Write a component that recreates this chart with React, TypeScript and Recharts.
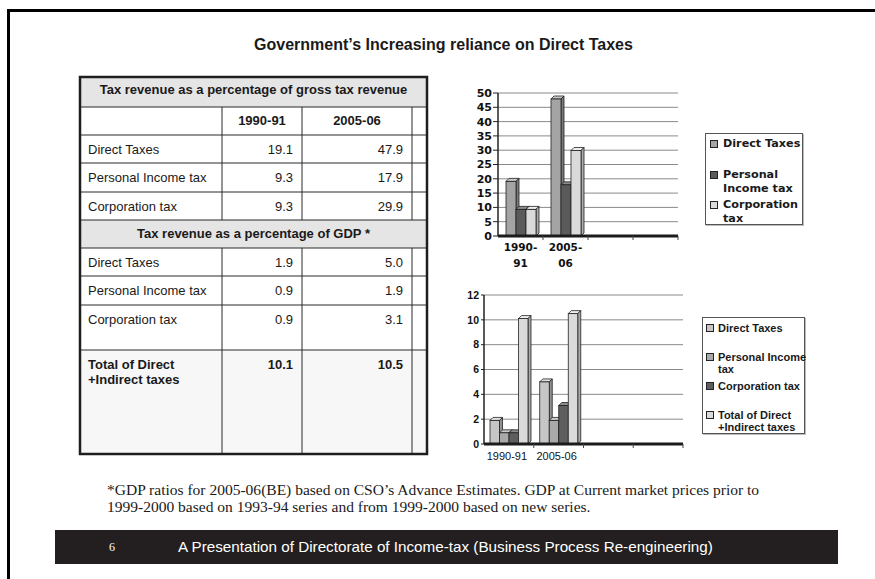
import React from "react";
import { BarChart, Bar, XAxis, YAxis, CartesianGrid, ReferenceLine, Legend } from "recharts";

// ---------- data ----------
const periods = ["1990-91", "2005-06"];
const emptySlots = ["", " "];
const shareDirect = [19.1, 47.9];
const sharePersonal = [9.3, 17.9];
const shareCorporation = [9.3, 29.9];
const gdpDirect = [1.9, 5.0];
const gdpPersonal = [0.9, 1.9];
const gdpCorporation = [0.9, 3.1];
const gdpTotal = [10.1, 10.5];
const shareTicks = [0, 5, 10, 15, 20, 25, 30, 35, 40, 45, 50];
const gdpTicks = [0, 2, 4, 6, 8, 10, 12];
const seriesNames = ["Direct Taxes", "Personal Income tax", "Corporation tax", "Total of Direct +Indirect taxes"];
const upperLegendLines = [["Direct Taxes"], ["Personal", "Income tax"], ["Corporation", "tax"]];
const lowerLegendLines = [["Direct Taxes"], ["Personal Income", "tax"], ["Corporation tax"], ["Total of Direct", "+Indirect taxes"]];
const tableTitleShare = "Tax revenue as a percentage of gross tax revenue";
const tableTitleGdp = "Tax revenue as a percentage of GDP *";
const totalLabelLines = ["Total of Direct", "+Indirect taxes"];
const title = "Government\u2019s Increasing reliance on Direct Taxes";
const footnoteLines = [
  "*GDP ratios for 2005-06(BE) based on CSO\u2019s Advance Estimates. GDP at Current market prices prior to",
  "1999-2000 based on 1993-94 series and from 1999-2000 based on new series.",
];
const pageNumber = "6";
const footerText = "A Presentation of Directorate of Income-tax (Business Process Re-engineering)";

const allSlots = [...periods, ...emptySlots];
const shareData = allSlots.map((p, i) => ({
  period: p,
  direct: shareDirect[i] ?? null,
  personal: sharePersonal[i] ?? null,
  corporation: shareCorporation[i] ?? null,
}));
const gdpData = allSlots.map((p, i) => ({
  period: p,
  direct: gdpDirect[i] ?? null,
  personal: gdpPersonal[i] ?? null,
  corporation: gdpCorporation[i] ?? null,
  total: gdpTotal[i] ?? null,
}));

// ---------- styles ----------
const ARIAL = "'Liberation Sans', Arial, sans-serif";
const WIDE = "'DejaVu Sans', Verdana, sans-serif";
const upperColors = [
  { front: "#a4a4a4", top: "#c9c9c9", side: "#7a7a7a" },
  { front: "#5a5a5a", top: "#8a8a8a", side: "#3c3c3c" },
  { front: "#dadada", top: "#efefef", side: "#ababab" },
];
const lowerColors = [
  { front: "#c6c6c6", top: "#e0e0e0", side: "#8f8f8f" },
  { front: "#a9a9a9", top: "#cacaca", side: "#7a7a7a" },
  { front: "#5e5e5e", top: "#8c8c8c", side: "#3e3e3e" },
  { front: "#dadada", top: "#efefef", side: "#a8a8a8" },
];

function Bar3D(props: any) {
  const { x, y, width, height, colors, depth } = props;
  if (height == null || !(height > 0) || x == null) return null;
  const d = depth;
  const sw = 0.8;
  return (
    <g>
      <polygon
        points={`${x},${y} ${x + d},${y - d} ${x + width + d},${y - d} ${x + width},${y}`}
        fill={colors.top}
        stroke="#222"
        strokeWidth={sw}
      />
      <polygon
        points={`${x + width},${y} ${x + width + d},${y - d} ${x + width + d},${y + height - d} ${x + width},${y + height}`}
        fill={colors.side}
        stroke="#222"
        strokeWidth={sw}
      />
      <rect x={x} y={y} width={width} height={height} fill={colors.front} stroke="#222" strokeWidth={sw} />
    </g>
  );
}

function UpperTick(props: any) {
  const { x, y, payload } = props;
  const v: string = payload?.value ?? "";
  const off = payload?.offset;
  const parts = v.trim() ? v.split("-") : [];
  const lines = parts.length === 2 ? [parts[0] + "-", parts[1]] : parts;
  return (
    <g>
      {off != null && <line x1={x + off} x2={x + off} y1={y} y2={y + 4} stroke="#444" />}
      <text textAnchor="middle" fontFamily={WIDE} fontWeight={700} fontSize={10.5} fill="#111">
        {lines.map((l, i) => (
          <tspan key={i} x={x} y={y + 15 + i * 16}>
            {l}
          </tspan>
        ))}
      </text>
    </g>
  );
}

function LowerTick(props: any) {
  const { x, y, payload } = props;
  const v: string = payload?.value ?? "";
  const off = payload?.offset;
  return (
    <g>
      {off != null && <line x1={x + off} x2={x + off} y1={y} y2={y + 4} stroke="#444" />}
      <text x={x - 2} y={y + 16} textAnchor="middle" fontFamily={ARIAL} fontSize={11} fill="#111">
        {v.trim()}
      </text>
    </g>
  );
}

function LegendBox({ lines, colors, w, h, textLeft, sqLeft, firstTop, step, lineH, font, size }: any) {
  return (
    <div
      style={{
        position: "relative",
        width: w,
        height: h,
        boxSizing: "border-box",
        border: "1px solid #555",
        boxShadow: "1px 1px 0 #bbb",
        background: "#fff",
        fontFamily: font,
        fontWeight: 700,
        fontSize: size,
        color: "#1a1a1a",
      }}
    >
      {lines.map((ls: string[], i: number) => (
        <div key={i} style={{ position: "absolute", left: 0, top: firstTop + i * step, width: w }}>
          <div
            style={{
              position: "absolute",
              left: sqLeft,
              top: (lineH - 8) / 2,
              width: 8,
              height: 8,
              boxSizing: "border-box",
              border: "1px solid #222",
              background: colors[i].front,
            }}
          />
          {ls.map((t, j) => (
            <div key={j} style={{ position: "absolute", left: textLeft, top: j * lineH, lineHeight: lineH + "px", whiteSpace: "nowrap" }}>
              {t}
            </div>
          ))}
        </div>
      ))}
    </div>
  );
}

function Table() {
  const xs = [80, 222, 302, 412, 427];
  const ys = [77, 107, 135, 163, 192, 220, 248, 276, 305, 350, 454];
  const shareRows = [
    { label: seriesNames[0], a: shareDirect[0], b: shareDirect[1] },
    { label: seriesNames[1], a: sharePersonal[0], b: sharePersonal[1] },
    { label: seriesNames[2], a: shareCorporation[0], b: shareCorporation[1] },
  ];
  const gdpRows = [
    { label: seriesNames[0], a: gdpDirect[0], b: gdpDirect[1] },
    { label: seriesNames[1], a: gdpPersonal[0], b: gdpPersonal[1] },
    { label: seriesNames[2], a: gdpCorporation[0], b: gdpCorporation[1] },
  ];
  const cx = (xs[0] + xs[4]) / 2;
  const txt = { fontFamily: ARIAL, fontSize: 13, fill: "#1a1a1a" } as any;
  const hl = (y: number, k: number) => <line key={"h" + k} x1={xs[0]} x2={xs[4]} y1={y} y2={y} stroke="#2a2a2a" strokeWidth={1} />;
  const vl = (x: number, y1: number, y2: number, k: string) => <line key={k} x1={x} x2={x} y1={y1} y2={y2} stroke="#2a2a2a" strokeWidth={1} />;
  return (
    <svg width={875} height={579} style={{ position: "absolute", left: 0, top: 0 }}>
      <rect x={xs[0]} y={ys[0]} width={xs[4] - xs[0]} height={ys[1] - ys[0]} fill="#e5e5e5" />
      <rect x={xs[0]} y={ys[5]} width={xs[4] - xs[0]} height={ys[6] - ys[5]} fill="#e5e5e5" />
      <rect x={xs[0]} y={ys[9]} width={xs[4] - xs[0]} height={ys[10] - ys[9]} fill="#f7f7f7" />
      {ys.slice(1, 10).map((y, k) => hl(y, k))}
      {[1, 2, 3].map((c) => vl(xs[c], ys[1], ys[5], "va" + c))}
      {[1, 2, 3].map((c) => vl(xs[c], ys[6], ys[10], "vb" + c))}
      <rect x={xs[0]} y={ys[0]} width={xs[4] - xs[0]} height={ys[10] - ys[0]} fill="none" stroke="#1e1e1e" strokeWidth={2.5} />
      <text x={cx} y={ys[0] + 17} textAnchor="middle" {...txt} fontWeight={700}>
        {tableTitleShare}
      </text>
      {periods.map((p, i) => (
        <text key={p} x={(xs[i + 1] + xs[i + 2]) / 2} y={ys[1] + 18} textAnchor="middle" {...txt} fontWeight={700}>
          {p}
        </text>
      ))}
      {shareRows.map((r, i) => (
        <g key={"s" + i}>
          <text x={xs[0] + 8} y={ys[2 + i] + 19} {...txt}>{r.label}</text>
          <text x={xs[2] - 9} y={ys[2 + i] + 19} textAnchor="end" {...txt}>{r.a.toFixed(1)}</text>
          <text x={xs[3] - 9} y={ys[2 + i] + 19} textAnchor="end" {...txt}>{r.b.toFixed(1)}</text>
        </g>
      ))}
      <text x={cx} y={ys[5] + 18} textAnchor="middle" {...txt} fontWeight={700}>
        {tableTitleGdp}
      </text>
      {gdpRows.map((r, i) => (
        <g key={"g" + i}>
          <text x={xs[0] + 8} y={ys[6 + i] + 19} {...txt}>{r.label}</text>
          <text x={xs[2] - 9} y={ys[6 + i] + 19} textAnchor="end" {...txt}>{r.a.toFixed(1)}</text>
          <text x={xs[3] - 9} y={ys[6 + i] + 19} textAnchor="end" {...txt}>{r.b.toFixed(1)}</text>
        </g>
      ))}
      {totalLabelLines.map((l, i) => (
        <text key={"t" + i} x={xs[0] + 8} y={ys[9] + 19 + i * 15} {...txt} fontWeight={700}>
          {l}
        </text>
      ))}
      <text x={xs[2] - 9} y={ys[9] + 19} textAnchor="end" {...txt} fontWeight={700}>{gdpTotal[0].toFixed(1)}</text>
      <text x={xs[3] - 9} y={ys[9] + 19} textAnchor="end" {...txt} fontWeight={700}>{gdpTotal[1].toFixed(1)}</text>
    </svg>
  );
}

export default function App() {
  const upperKeys = ["direct", "personal", "corporation"];
  const lowerKeys = ["direct", "personal", "corporation", "total"];
  return (
    <div style={{ position: "absolute", left: 0, top: 0, width: 875, height: 579, background: "#fff", overflow: "hidden" }}>
      {/* slide frame */}
      <div style={{ position: "absolute", left: 7, top: 9, width: 900, height: 600, borderTop: "3px solid #000", borderLeft: "3px solid #000" }} />
      <div
        style={{
          position: "absolute",
          left: 0,
          width: 887,
          top: 36,
          textAlign: "center",
          fontFamily: ARIAL,
          fontWeight: 700,
          fontSize: 16,
          color: "#1a1a1a",
          whiteSpace: "nowrap",
        }}
      >
        {title}
      </div>

      <Table />

      {/* upper chart */}
      <div style={{ position: "absolute", left: 470, top: 80 }}>
        <BarChart width={340} height={200} data={shareData} margin={{ top: 13, right: 132, bottom: 4, left: 0 }} barGap={0} barSize={10}>
          <CartesianGrid vertical={false} stroke="#8a8a8a" />
          <XAxis dataKey="period" height={40} axisLine={false} tickLine={false} tickSize={0} tickMargin={0} interval={0} tick={<UpperTick />} />
          <YAxis
            width={28}
            domain={[0, 50]}
            ticks={shareTicks}
            interval={0}
            tickSize={5}
            tickMargin={1}
            tick={{ fontSize: 11, fontWeight: 700, fill: "#111", fontFamily: WIDE }}
            axisLine={{ stroke: "#222", strokeWidth: 1.5 }}
            tickLine={{ stroke: "#222" }}
          />
          <YAxis yAxisId="r" orientation="right" width={0} domain={[0, 50]} tick={false} tickLine={false} axisLine={{ stroke: "#8a8a8a" }} />
          <ReferenceLine y={0} stroke="#1b1b1b" strokeWidth={3} />
          {upperKeys.map((k, i) => (
            <Bar
              key={k}
              dataKey={k}
              name={seriesNames[i]}
              fill={upperColors[i].front}
              isAnimationActive={false}
              shape={(p: any) => <Bar3D {...p} colors={upperColors[i]} depth={3} />}
            />
          ))}
          <Legend
            layout="vertical"
            align="center"
            verticalAlign="middle"
            wrapperStyle={{ left: 235, top: 53, width: 98, height: 92 }}
            content={() => (
              <LegendBox
                lines={upperLegendLines}
                colors={upperColors}
                w={98}
                h={92}
                textLeft={17}
                sqLeft={4}
                firstTop={3}
                step={30.5}
                lineH={14}
                font={WIDE}
                size={11.2}
              />
            )}
          />
        </BarChart>
      </div>

      {/* lower chart */}
      <div style={{ position: "absolute", left: 460, top: 280 }}>
        <BarChart width={350} height={190} data={gdpData} margin={{ top: 15, right: 127, bottom: 6, left: 0 }} barGap={0} barSize={9.5}>
          <CartesianGrid vertical={false} stroke="#8a8a8a" />
          <XAxis dataKey="period" height={20} axisLine={false} tickLine={false} tickSize={0} tickMargin={0} interval={0} tick={<LowerTick />} />
          <YAxis
            width={24}
            domain={[0, 12]}
            ticks={gdpTicks}
            interval={0}
            tickSize={3}
            tickMargin={2}
            tick={{ fontSize: 10.5, fontWeight: 700, fill: "#111", fontFamily: ARIAL }}
            axisLine={{ stroke: "#222", strokeWidth: 1.5 }}
            tickLine={{ stroke: "#222" }}
          />
          <YAxis yAxisId="r" orientation="right" width={0} domain={[0, 12]} tick={false} tickLine={false} axisLine={{ stroke: "#8a8a8a" }} />
          <ReferenceLine y={0} stroke="#1b1b1b" strokeWidth={3} />
          {lowerKeys.map((k, i) => (
            <Bar
              key={k}
              dataKey={k}
              name={seriesNames[i]}
              fill={lowerColors[i].front}
              isAnimationActive={false}
              shape={(p: any) => <Bar3D {...p} colors={lowerColors[i]} depth={3} />}
            />
          ))}
          <Legend
            layout="vertical"
            align="center"
            verticalAlign="middle"
            wrapperStyle={{ left: 242, top: 37, width: 103, height: 117 }}
            content={() => (
              <LegendBox
                lines={lowerLegendLines}
                colors={lowerColors}
                w={103}
                h={117}
                textLeft={15}
                sqLeft={3}
                firstTop={4}
                step={29}
                lineH={12}
                font={ARIAL}
                size={11}
              />
            )}
          />
        </BarChart>
      </div>

      {/* footnote */}
      <div
        style={{
          position: "absolute",
          left: 107,
          top: 482,
          fontFamily: "'Liberation Serif', 'Times New Roman', serif",
          fontSize: 14.5,
          lineHeight: "17px",
          color: "#1a1a1a",
          whiteSpace: "nowrap",
          transform: "scaleX(1.07)",
          transformOrigin: "0 0",
        }}
      >
        {footnoteLines.map((l, i) => (
          <div key={i}>{l}</div>
        ))}
      </div>

      {/* footer bar */}
      <div style={{ position: "absolute", left: 55, top: 530, width: 783, height: 34, background: "#231f20" }}>
        <div
          style={{
            position: "absolute",
            left: 54,
            top: 0,
            lineHeight: "34px",
            fontFamily: "'Liberation Serif', serif",
            fontSize: 12,
            color: "#fff",
          }}
        >
          {pageNumber}
        </div>
        <div
          style={{
            position: "absolute",
            left: 123,
            top: 0,
            lineHeight: "34px",
            fontFamily: ARIAL,
            fontSize: 14.5,
            color: "#fff",
            whiteSpace: "nowrap",
            transform: "scaleX(1.05)",
            transformOrigin: "0 50%",
          }}
        >
          {footerText}
        </div>
      </div>
    </div>
  );
}
